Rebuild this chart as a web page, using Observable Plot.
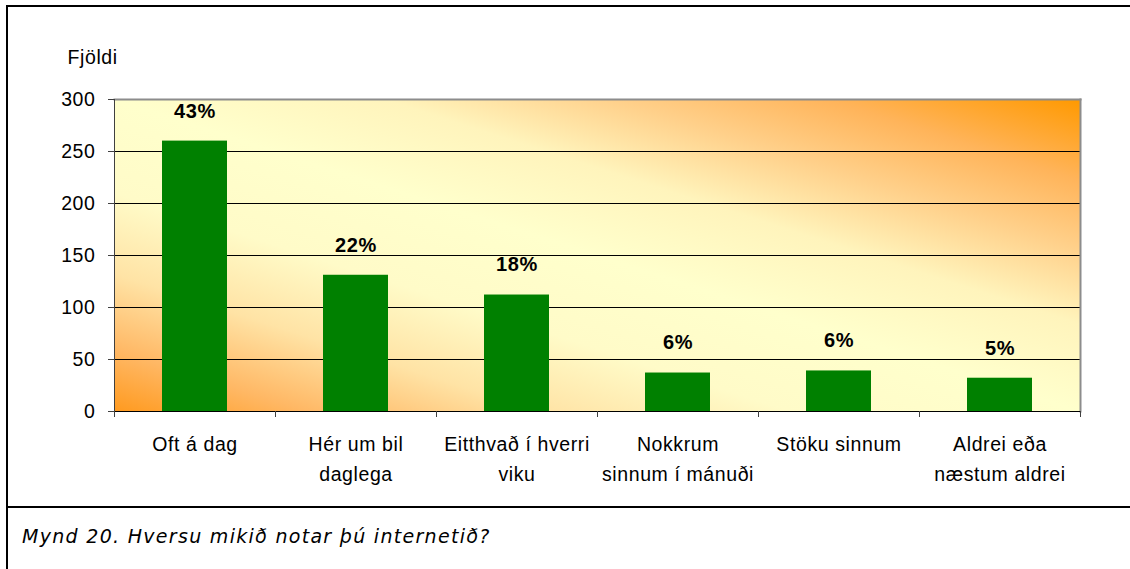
<!DOCTYPE html>
<html><head><meta charset="utf-8">
<script src="https://cdn.jsdelivr.net/npm/d3@7"></script>
<script src="https://cdn.jsdelivr.net/npm/@observablehq/plot@0.6"></script>
<style>
body{margin:0;background:#fff;width:1130px;height:569px;overflow:hidden;position:relative;font-family:"Liberation Sans",Arial,sans-serif}
#chart{position:absolute;left:0;top:0}
#chart text{letter-spacing:0.6px}
.line{position:absolute;background:#000}
#caption{position:absolute;left:22px;top:525px;font-family:"DejaVu Sans";font-style:italic;font-size:19px;letter-spacing:1.3px;line-height:22px;color:#000;white-space:nowrap}
</style></head><body>
<div id="chart"></div>
<div class="line" style="left:6px;top:5px;width:1124px;height:2px"></div>
<div class="line" style="left:6px;top:5px;width:2px;height:564px"></div>
<div class="line" style="left:6px;top:506px;width:1124px;height:2px"></div>
<div id="caption"></div>
<script>
const categories = ["Oft á dag","Hér um bil daglega","Eitthvað í hverri viku","Nokkrum sinnum í mánuði","Stöku sinnum","Aldrei eða næstum aldrei"];
const tickLabels = ["Oft á dag","Hér um bil\ndaglega","Eitthvað í hverri\nviku","Nokkrum\nsinnum í mánuði","Stöku sinnum","Aldrei eða\nnæstum aldrei"];
const counts = [260, 131, 112, 37, 39, 32];
const shares = ["43%","22%","18%","6%","6%","5%"];
const yTicks = [0, 50, 100, 150, 200, 250, 300];
const yLabel = "Fjöldi";
const captionText = "Mynd 20. Hversu mikið notar þú internetið?";

const data = categories.map((c, i) => ({category: c, label: tickLabels[i], count: counts[i], share: shares[i]}));

const plot = Plot.plot({
  width: 1130, height: 505,
  marginLeft: 114, marginRight: 50, marginTop: 99, marginBottom: 94,
  style: {fontFamily: '"Liberation Sans", Arial, sans-serif', fontSize: "19.5px", background: "transparent", color: "#000", overflow: "visible"},
  x: {domain: categories, padding: 0, axis: null},
  y: {domain: [0, 300], axis: null},
  marks: [
    Plot.frame({fill: "url(#plotBg)"}),
    Plot.ruleY(yTicks.filter(d => d > 0 && d < 300), {stroke: "#000", strokeWidth: 1}),
    Plot.barY(data, {x: "category", y: "count", fill: "#008000", insetLeft: 48, insetRight: 48}),
    Plot.frame({anchor: "top", stroke: "#8c8c8c", strokeWidth: 2}),
    Plot.frame({anchor: "right", stroke: "#8c8c8c", strokeWidth: 2}),
    Plot.frame({anchor: "left", stroke: "#404040", strokeWidth: 1}),
    Plot.ruleY([0], {stroke: "#000"}),
    Plot.axisY({ticks: yTicks, tickSize: 6, tickPadding: 13, fontSize: 19.5, stroke: "#404040", label: null}),
    Plot.ruleX(categories, {x: d => d, y1: 0, y2: 0, insetBottom: -6, dx: -80.5, stroke: "#404040"}),
    Plot.ruleX(categories.slice(-1), {x: d => d, y1: 0, y2: 0, insetBottom: -6, dx: 80.5, stroke: "#404040"}),
    Plot.text(data, {x: "category", y: 0, text: "label", dy: 19, lineAnchor: "top", lineHeight: 1.5, fontSize: 19.5, fill: "#000"}),
    Plot.text(data, {x: "category", y: "count", text: "share", dy: -30, lineAnchor: "middle", fontWeight: "bold", fontSize: 20, fill: "#000"}),
    Plot.text([yLabel], {frameAnchor: "top-left", dx: -47, dy: -42, textAnchor: "start", lineAnchor: "middle", fontSize: 19.5, fill: "#000"})
  ]
});

d3.select(plot).insert("defs", ":first-child").html(`
  <linearGradient id="plotBg" x1="0" y1="1" x2="1" y2="0">
    <stop offset="0" stop-color="#FF9A1F"/>
    <stop offset="0.1" stop-color="#FFB865"/>
    <stop offset="0.22" stop-color="#FFE3A5"/>
    <stop offset="0.35" stop-color="#FFFBC8"/>
    <stop offset="0.5" stop-color="#FFFFCC"/>
    <stop offset="0.64" stop-color="#FFF4BC"/>
    <stop offset="0.76" stop-color="#FFD08A"/>
    <stop offset="0.87" stop-color="#FFB45A"/>
    <stop offset="1" stop-color="#FF9900"/>
  </linearGradient>`);

document.getElementById("chart").appendChild(plot);
document.getElementById("caption").textContent = captionText;
</script>
</body></html>
